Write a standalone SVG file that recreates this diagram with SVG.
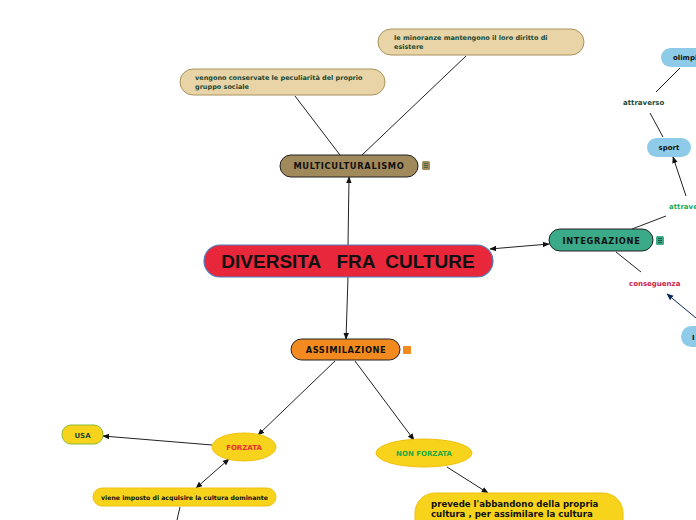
<svg xmlns="http://www.w3.org/2000/svg" width="696" height="520" viewBox="0 0 696 520">
<defs>
<marker id="ah" viewBox="0 0 10 10" refX="9" refY="5" markerWidth="7" markerHeight="7" orient="auto-start-reverse" markerUnits="userSpaceOnUse"><path d="M0,1 L10,5 L0,9 z" fill="#111"/></marker>
<marker id="ahn" viewBox="0 0 10 10" refX="9" refY="5" markerWidth="7" markerHeight="7" orient="auto-start-reverse" markerUnits="userSpaceOnUse"><path d="M0,1 L10,5 L0,9 z" fill="#0a2a5a"/></marker>
<style>
.t{font-family:"DejaVu Sans",Verdana,sans-serif;font-weight:bold}
.tan rect{fill:#e8d4a6;stroke:#a8925e;stroke-width:1}
.tan text{font-size:6.5px;fill:#1b4a36}
.lb rect{fill:#8ecbe8}
.lb text{font-size:7px;fill:#111}
.ln{stroke:#222;stroke-width:1;fill:none}
.yel{fill:#f8d31c;stroke:#f0c010;stroke-width:1}
</style>
</defs>
<rect width="696" height="520" fill="#fff"/>
<g id="connectors">
<line class="ln" x1="295" y1="96" x2="340" y2="155"/>
<line class="ln" x1="466" y1="56" x2="362" y2="155"/>
<line class="ln" x1="348" y1="245" x2="349" y2="177" marker-end="url(#ah)"/>
<line class="ln" x1="348" y1="277" x2="346" y2="339" marker-end="url(#ah)"/>
<line class="ln" x1="490" y1="249" x2="549" y2="244" marker-start="url(#ah)" marker-end="url(#ah)"/>
<line class="ln" x1="632" y1="229" x2="666" y2="216"/>
<line class="ln" x1="686" y1="196" x2="673" y2="157" marker-end="url(#ah)"/>
<line class="ln" x1="650" y1="113" x2="663" y2="137"/>
<line class="ln" x1="656" y1="92" x2="680" y2="68"/>
<line class="ln" x1="616" y1="252" x2="641" y2="272"/>
<line x1="696" y1="318" x2="667" y2="294" stroke="#0a2a5a" stroke-width="1" marker-end="url(#ahn)"/>
<line class="ln" x1="335" y1="361" x2="258" y2="435" marker-end="url(#ah)"/>
<line class="ln" x1="355" y1="361" x2="414" y2="440" marker-end="url(#ah)"/>
<line class="ln" x1="212" y1="445" x2="103" y2="436" marker-end="url(#ah)"/>
<line class="ln" x1="229" y1="459" x2="196" y2="488" marker-start="url(#ah)" marker-end="url(#ah)"/>
<line class="ln" x1="180" y1="507" x2="177" y2="520"/>
<line class="ln" x1="447" y1="467" x2="488" y2="493" marker-end="url(#ah)"/>
</g>
<g id="main">
<rect x="204" y="245" width="289" height="32" rx="16" fill="#e8283a" stroke="#4a7ec0" stroke-width="1.2"/>
<text x="348" y="267.5" text-anchor="middle" font-family="Liberation Sans,Arial,sans-serif" font-weight="bold" font-size="19" fill="#111" xml:space="preserve">DIVERSITA   FRA  CULTURE</text>
</g>
<g id="multi">
<rect x="280" y="155" width="138" height="22" rx="11" fill="#a08a5c" stroke="#222" stroke-width="1"/>
<text class="t" x="349" y="169" text-anchor="middle" font-size="8.3" fill="#111" letter-spacing="0.7">MULTICULTURALISMO</text>
<rect x="422" y="161" width="8" height="9" rx="1.5" fill="#a08a5c"/>
<path d="M424,163.5h4M424,165.5h4M424,167.5h4" stroke="#2a5a3a" stroke-width="0.8"/>
</g>
<g id="conservate" class="tan">
<rect x="180" y="69" width="205" height="26" rx="13"/>
<text class="t" x="195" y="80">vengono conservate le peculiarità del proprio</text>
<text class="t" x="195" y="89">gruppo sociale</text>
</g>
<g id="minoranze" class="tan">
<rect x="378" y="29" width="206" height="26" rx="13"/>
<text class="t" x="394" y="40">le minoranze mantengono il loro diritto di</text>
<text class="t" x="394" y="49">esistere</text>
</g>
<g id="integrazione">
<rect x="549" y="229" width="104" height="22" rx="11" fill="#3aaa88" stroke="#222" stroke-width="1"/>
<text class="t" x="601.5" y="243.5" text-anchor="middle" font-size="8.3" fill="#111" letter-spacing="0.7">INTEGRAZIONE</text>
<rect x="656" y="236" width="8" height="9" rx="1.5" fill="#3aaa88"/>
<path d="M658,238.5h4M658,240.5h4M658,242.5h4" stroke="#1a3a2a" stroke-width="0.8"/>
</g>
<g id="attraverso1">
<text class="t" x="669" y="209" font-size="7" fill="#22aa55">attraverso</text>
</g>
<g id="sport" class="lb">
<rect x="647" y="138" width="44" height="19" rx="9.5"/>
<text class="t" x="669" y="150" text-anchor="middle">sport</text>
</g>
<g id="attraverso2">
<text class="t" x="623" y="105" font-size="7" fill="#1b4a36">attraverso</text>
</g>
<g id="olimpiadi" class="lb">
<rect x="661" y="48" width="60" height="19" rx="9.5"/>
<text class="t" x="673" y="60">olimpiadi</text>
</g>
<g id="conseguenza">
<text class="t" x="629" y="286" font-size="7" fill="#cc2244">conseguenza</text>
</g>
<g id="nodeI" class="lb">
<rect x="681" y="326" width="40" height="21" rx="10.5"/>
<text class="t" x="692" y="339.5">I</text>
</g>
<g id="assimilazione">
<rect x="291" y="339" width="109" height="21" rx="10.5" fill="#f28a20" stroke="#222" stroke-width="1"/>
<text class="t" x="346" y="353" text-anchor="middle" font-size="8.3" fill="#111" letter-spacing="0.6">ASSIMILAZIONE</text>
<rect x="403" y="346" width="8" height="8" rx="1" fill="#f28a20"/>
</g>
<g id="forzata">
<ellipse class="yel" cx="244" cy="447" rx="32" ry="14"/>
<text class="t" x="244" y="450" text-anchor="middle" font-size="7" fill="#e83030">FORZATA</text>
</g>
<g id="usa">
<rect x="62" y="425" width="41" height="19" rx="9" fill="#f8d31c" stroke="#88bb33" stroke-width="1"/>
<text class="t" x="82.5" y="437.5" text-anchor="middle" font-size="7" fill="#1b4a36">USA</text>
</g>
<g id="imposto">
<rect class="yel" x="93" y="488" width="183" height="18" rx="9"/>
<text class="t" x="184.5" y="499.5" text-anchor="middle" font-size="6.2" fill="#111">viene imposto di acquisire la cultura dominante</text>
</g>
<g id="nonforzata">
<ellipse class="yel" cx="424" cy="453" rx="48" ry="14"/>
<text class="t" x="424" y="456" text-anchor="middle" font-size="7" fill="#22aa44">NON FORZATA</text>
</g>
<g id="prevede">
<rect class="yel" x="415" y="493" width="208" height="60" rx="20"/>
<text class="t" font-size="8.6" fill="#111"><tspan x="431" y="507">prevede l'abbandono della propria</tspan><tspan x="431" y="517">cultura , per assimilare la cultura</tspan><tspan x="431" y="527">dominante</tspan></text>
</g>
</svg>
